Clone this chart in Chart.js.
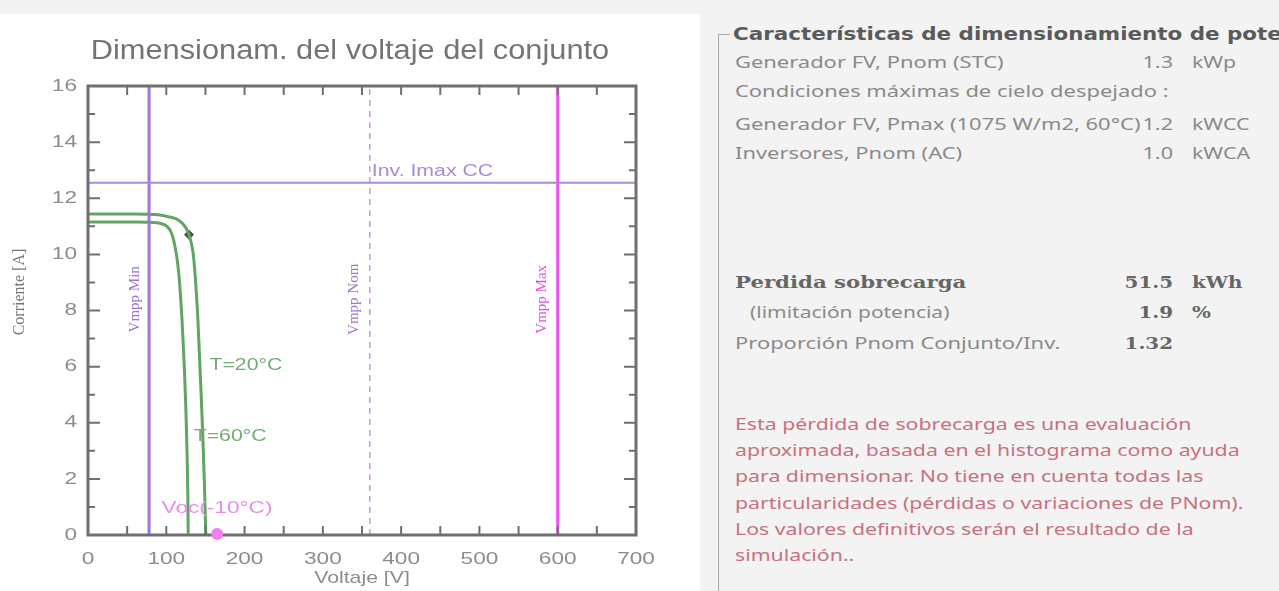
<!DOCTYPE html>
<html>
<head>
<meta charset="utf-8">
<script src="https://cdn.jsdelivr.net/npm/chart.js@4.4.0/dist/chart.umd.min.js"></script>
<style>
  html, body { margin: 0; padding: 0; }
  body { width: 1279px; height: 591px; overflow: hidden; background: #f3f3f3; position: relative; font-family: "Noto Sans", sans-serif; }
  #plotBox { position: absolute; left: 0; top: 14px; width: 700px; height: 577px; background: #fff; }
  #cv { position: absolute; left: 0; top: 0; }
  #panel { position: absolute; left: 700px; top: 0; width: 579px; height: 591px; overflow: hidden; }
  .frameV { position: absolute; left: 18px; top: 34px; width: 1px; height: 560px; background: #a8a8a8; }
  .frameH { position: absolute; left: 18px; top: 34px; width: 12px; height: 1px; background: #a8a8a8; }
  .gtitle { position: absolute; left: 33px; top: 20px; white-space: nowrap; font-family: "DejaVu Sans", sans-serif; font-weight: bold; font-size: 17px; color: #5a5a5a; line-height: 28px; transform: scaleX(1.26); transform-origin: left center; }
  .row { position: absolute; left: 35px; white-space: nowrap; font-size: 16px; color: #8a8a8a; line-height: 24px; transform: scaleX(1.37); transform-origin: left center; }
  .val { position: absolute; width: 80px; text-align: right; white-space: nowrap; font-size: 16px; color: #8a8a8a; line-height: 24px; transform: scaleX(1.35); transform-origin: right center; }
  .unit { position: absolute; white-space: nowrap; font-size: 16px; color: #8a8a8a; line-height: 24px; transform: scaleX(1.33); transform-origin: left center; }
  .b { font-family: "DejaVu Serif", serif; font-weight: bold; font-size: 17px; color: #666; }
  .row.b { transform: scaleX(1.25); }
  .val.b, .unit.b { transform-origin: right center; transform: scaleX(1.17); }
  .unit.b { transform-origin: left center; }
  .note { position: absolute; left: 35px; top: 411px; font-size: 16px; line-height: 26.2px; color: #c8707e; white-space: nowrap; transform: scaleX(1.33); transform-origin: left top; }
</style>
</head>
<body>
<div id="plotBox"></div>
<canvas id="cv" width="700" height="591"></canvas>

<div id="panel">
  <div class="frameV"></div>
  <div class="frameH"></div>
  <div class="gtitle">Características de dimensionamiento de potencia</div>

  <div class="row" style="top:50px">Generador FV, Pnom (STC)</div>
  <div class="val" style="left:393px;top:50px">1.3</div>
  <div class="unit" style="left:492px;top:50px">kWp</div>

  <div class="row" style="top:79px">Condiciones máximas de cielo despejado :</div>

  <div class="row" style="top:112px">Generador FV, Pmax (1075 W/m2, 60°C)</div>
  <div class="val" style="left:393px;top:112px">1.2</div>
  <div class="unit" style="left:492px;top:112px">kWCC</div>

  <div class="row" style="top:141px">Inversores, Pnom (AC)</div>
  <div class="val" style="left:393px;top:141px">1.0</div>
  <div class="unit" style="left:492px;top:141px">kWCA</div>

  <div class="row b" style="top:270px">Perdida sobrecarga</div>
  <div class="val b" style="left:393px;top:270px">51.5</div>
  <div class="unit b" style="left:492px;top:270px">kWh</div>

  <div class="row" style="top:300px;left:50px;transform:scaleX(1.31)">(limitación potencia)</div>
  <div class="val b" style="left:393px;top:300px">1.9</div>
  <div class="unit b" style="left:492px;top:300px">%</div>

  <div class="row" style="top:331px">Proporción Pnom Conjunto/Inv.</div>
  <div class="val b" style="left:393px;top:331px">1.32</div>

  <div class="note">Esta pérdida de sobrecarga es una evaluación<br>aproximada, basada en el histograma como ayuda<br>para dimensionar. No tiene en cuenta todas las<br>particularidades (pérdidas o variaciones de PNom).<br>Los valores definitivos serán el resultado de la<br>simulación..</div>
</div>

<script>
// I-V curves
const voltT20 = [0, 60, 85, 100, 112, 120, 126, 129, 132, 134.5, 137, 140, 143, 146, 148.5, 150.5];
const curT20  = [11.44, 11.44, 11.42, 11.36, 11.27, 11.12, 10.9, 10.7, 10.4, 10.0, 9.2, 7.9, 6.0, 4.0, 2.0, 0];
const voltT60 = [0, 60, 88, 98, 104, 108, 111, 114, 117, 120, 123, 125, 126.5, 127.5, 128];
const curT60  = [11.15, 11.15, 11.13, 11.05, 10.9, 10.65, 10.3, 9.8, 9.0, 7.7, 6.0, 4.5, 3.0, 1.5, 0];

const mppVolt = [129];
const mppCur = [10.7];
const vocVolt = [165];
const vocCur = [0];

const vmppMin = 78;
const vmppNom = 360;
const vmppMax = 600;
const invImax = 12.55;

const xTickVals = [0, 100, 200, 300, 400, 500, 600, 700];
const yTickVals = [0, 2, 4, 6, 8, 10, 12, 14, 16];

const green = '#62a562';
const SX = 1.33; // the source screenshot is stretched sideways
const toPts = (xs, ys) => xs.map((x, i) => ({ x: x, y: ys[i] }));
const vLine = v => [{ x: v, y: 0 }, { x: v, y: 16 }];

const labels = [
  { text: 'Inv. Imax CC', x: vmppNom, y: invImax, dx: 2, dy: -3, base: 'bottom', color: '#a88ad8', font: '16px "Liberation Sans"' },
  { text: 'T=20°C', x: 150, y: 6.05, dx: 4, dy: 0, base: 'middle', color: '#74ad74', font: '16px "Liberation Sans"' },
  { text: 'T=60°C', x: 135, y: 3.5, dx: 0, dy: 0, base: 'middle', color: '#74ad74', font: '16px "Liberation Sans"' },
  { text: 'Voc(-10°C)', x: 94, y: 0.95, dx: 0, dy: 0, base: 'middle', color: '#ea8cea', font: '17px "Liberation Sans"' }
];
const vLabels = [
  { text: 'Vmpp Min', x: vmppMin, y: 8.4, dx: -14, color: '#9c72d2' },
  { text: 'Vmpp Nom', x: vmppNom, y: 8.4, dx: -16, color: '#a276c8' },
  { text: 'Vmpp Max', x: vmppMax, y: 8.4, dx: -16, color: '#e052e0' }
];

function stretchText(ctx, text, x, y, align, sx) {
  ctx.save();
  ctx.translate(x, y);
  ctx.scale(sx, 1);
  ctx.textAlign = align;
  ctx.fillText(text, 0, 0);
  ctx.restore();
}

const framePlugin = {
  id: 'frame',
  afterDraw(chart) {
    const { ctx, chartArea: a, scales: { x, y } } = chart;
    ctx.save();
    // title
    ctx.fillStyle = '#747474';
    ctx.font = '27px "Liberation Sans"';
    ctx.textBaseline = 'middle';
    stretchText(ctx, 'Dimensionam. del voltaje del conjunto', (a.left + a.right) / 2 - 12, 52, 'center', 1.14);

    // tick labels from the scales
    ctx.fillStyle = '#8c8c8c';
    ctx.font = '17px "Liberation Sans"';
    ctx.textBaseline = 'middle';
    x.ticks.forEach(t => stretchText(ctx, String(t.value), x.getPixelForValue(t.value), a.bottom + 24, 'center', SX));
    y.ticks.forEach(t => stretchText(ctx, String(t.value), a.left - 11, y.getPixelForValue(t.value), 'right', SX));
    stretchText(ctx, 'Voltaje [V]', (a.left + a.right) / 2, a.bottom + 43, 'center', 1.25);
    ctx.save();
    ctx.translate(20, 292);
    ctx.rotate(-Math.PI / 2);
    ctx.fillStyle = '#777';
    ctx.font = '16px "Liberation Serif"';
    ctx.textAlign = 'center';
    ctx.fillText('Corriente [A]', 0, 0);
    ctx.restore();

    // inside ticks
    ctx.strokeStyle = '#6f6f6f';
    ctx.lineWidth = 2;
    ctx.beginPath();
    for (let v = 50; v < 700; v += 50) {
      const px = x.getPixelForValue(v);
      ctx.moveTo(px, a.bottom); ctx.lineTo(px, a.bottom - 9);
      ctx.moveTo(px, a.top); ctx.lineTo(px, a.top + 9);
    }
    for (let v = 1; v < 16; v++) {
      const py = y.getPixelForValue(v);
      const len = v % 2 === 0 ? 12 : 7;
      ctx.moveTo(a.left, py); ctx.lineTo(a.left + len, py);
      ctx.moveTo(a.right, py); ctx.lineTo(a.right - len, py);
    }
    ctx.stroke();
    // frame
    ctx.lineWidth = 3;
    ctx.strokeRect(a.left, a.top, a.right - a.left, a.bottom - a.top);

    // text labels
    labels.forEach(l => {
      ctx.fillStyle = l.color;
      ctx.font = l.font;
      ctx.textBaseline = l.base;
      stretchText(ctx, l.text, x.getPixelForValue(l.x) + l.dx, y.getPixelForValue(l.y) + l.dy, 'left', SX);
    });
    vLabels.forEach(l => {
      ctx.save();
      ctx.translate(x.getPixelForValue(l.x) + l.dx, y.getPixelForValue(l.y));
      ctx.rotate(-Math.PI / 2);
      ctx.fillStyle = l.color;
      ctx.font = '15px "Liberation Serif"';
      ctx.textAlign = 'center';
      ctx.textBaseline = 'middle';
      ctx.fillText(l.text, 0, 0);
      ctx.restore();
    });
    // Voc marker on top of the frame
    const vx = x.getPixelForValue(vocVolt[0]), vy = y.getPixelForValue(vocCur[0]);
    ctx.fillStyle = '#f27ef2';
    ctx.beginPath();
    ctx.arc(vx, vy - 1, 6, 0, Math.PI * 2);
    ctx.fill();
    ctx.restore();
  }
};

new Chart(document.getElementById('cv'), {
  type: 'scatter',
  data: {
    datasets: [
      { label: 'Inv. Imax CC', data: [{ x: 0, y: invImax }, { x: 700, y: invImax }], showLine: true, borderColor: '#a88ae0', borderWidth: 2, pointRadius: 0 },
      { label: 'Vmpp Min', data: vLine(vmppMin), showLine: true, borderColor: '#9e74d6', borderWidth: 3, pointRadius: 0 },
      { label: 'Vmpp Nom', data: vLine(vmppNom), showLine: true, borderColor: '#c69ad2', borderWidth: 1.5, borderDash: [6, 5], pointRadius: 0 },
      { label: 'Vmpp Max', data: vLine(vmppMax), showLine: true, borderColor: '#f050f0', borderWidth: 3, pointRadius: 0 },
      { label: 'T=60°C', data: toPts(voltT60, curT60), showLine: true, borderColor: green, borderWidth: 3, pointRadius: 0, tension: 0.2 },
      { label: 'T=20°C', data: toPts(voltT20, curT20), showLine: true, borderColor: green, borderWidth: 3, pointRadius: 0, tension: 0.2 },
      { label: 'Pmpp', data: toPts(mppVolt, mppCur), pointStyle: 'rectRot', pointRadius: 4.5, backgroundColor: '#4f4f4f', borderColor: '#4f4f4f' }
    ]
  },
  options: {
    responsive: false,
    animation: false,
    layout: { padding: { left: 0, top: 86, right: 64, bottom: 0 } },
    plugins: { legend: { display: false }, tooltip: { enabled: false } },
    scales: {
      x: {
        type: 'linear', min: 0, max: 700,
        afterBuildTicks: s => { s.ticks = xTickVals.map(v => ({ value: v })); },
        afterFit: s => { s.height = 56; },
        grid: { display: false, drawTicks: false },
        border: { display: false },
        ticks: { display: false }
      },
      y: {
        type: 'linear', min: 0, max: 16,
        afterBuildTicks: s => { s.ticks = yTickVals.map(v => ({ value: v })); },
        afterFit: s => { s.width = 88; },
        grid: { display: false, drawTicks: false },
        border: { display: false },
        ticks: { display: false }
      }
    }
  },
  plugins: [framePlugin]
});
</script>
</body>
</html>
